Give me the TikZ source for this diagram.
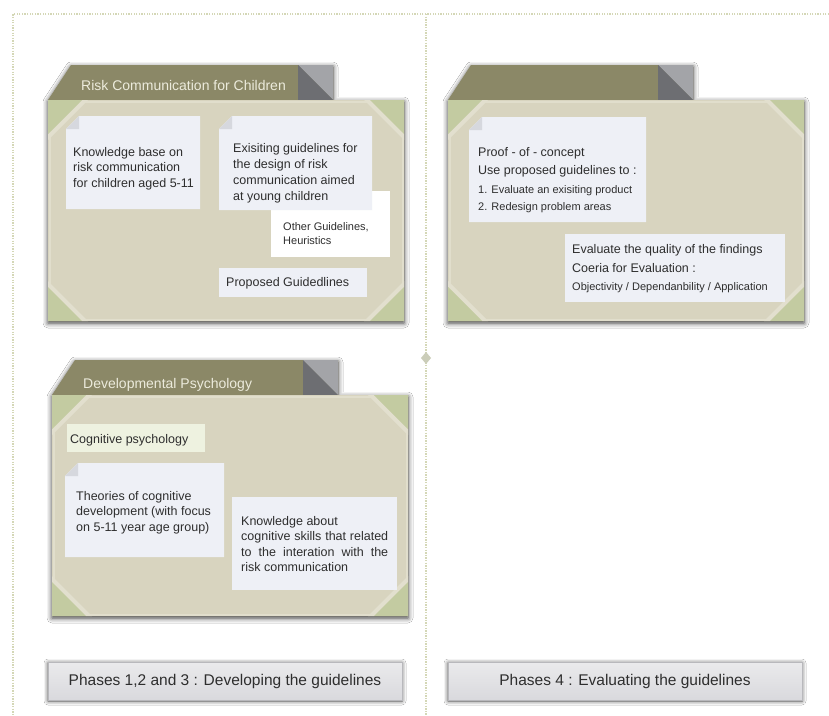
\documentclass[tikz,border=0pt]{standalone}
\usepackage{fontspec}
\setmainfont{Liberation Sans}
\usetikzlibrary{shadows.blur}

\definecolor{tabolive}{HTML}{8B8867}
\definecolor{folddark}{HTML}{6D6E72}
\definecolor{foldlight}{HTML}{A3A4A8}
\definecolor{bodybeige}{HTML}{D8D4BF}
\definecolor{bodyedge}{HTML}{E1DECC}
\definecolor{cornergreen}{HTML}{C3CBA1}
\definecolor{cornerband}{HTML}{E2DFCE}
\definecolor{notefill}{HTML}{EEF0F6}
\definecolor{notefold}{HTML}{D6D8DE}
\definecolor{cogfill}{HTML}{EEF2E0}
\definecolor{txtgray}{HTML}{2E2E2E}
\definecolor{titlecol}{HTML}{ECEBDC}
\definecolor{dotcol}{HTML}{D4D7B6}
\definecolor{phasetop}{HTML}{EAEAEC}
\definecolor{phasebot}{HTML}{D9D9DD}

% card with a folded top-left corner
\newcommand{\foldcard}[4]{%
  \fill[notefill] ({#1+13},#2) -- (#3,#2) -- (#3,#4) -- (#1,#4) -- (#1,{#2+13}) -- cycle;
  \fill[notefold] (#1,{#2+13}) -- ({#1+13},#2) -- ({#1+13},{#2+13}) -- cycle;
}
% plain rectangular card
\newcommand{\plaincard}[5]{%
  \fill[#5] (#1,#2) rectangle (#3,#4);
}

% multi-line text nodes are placed by the baseline of their last line
\tikzset{
  gridline/.style={dotcol, line width=1.3pt, dash pattern=on 1.3pt off 1.3pt},
  notetext/.style={font=\fontsize{12.5}{15.5}\selectfont, text=txtgray, inner sep=0pt,
    anchor=base west, align=left},
  smalltext/.style={font=\fontsize{11}{14}\selectfont, text=txtgray, inner sep=0pt,
    anchor=base west, align=left},
  titletext/.style={font=\fontsize{14}{16}\selectfont, text=titlecol, inner sep=0pt,
    anchor=base west},
  phasebox/.style={top color=phasetop, bottom color=phasebot, draw=phasebot!85!black,
    line width=0.6pt, minimum width=354pt, minimum height=38pt, inner sep=0pt,
    font=\fontsize{15.5}{18}\selectfont, text=txtgray,
    blur shadow={shadow xshift=0pt, shadow yshift=-1pt, shadow blur radius=4pt, shadow opacity=75}},
  % folder: body is 356 x 221 below the local origin, tab rises 35 above it;
  % the argument is where the tab's folded corner starts
  folder/.pic={
    \fill[tabolive, blur shadow={shadow xshift=0pt, shadow yshift=-2pt,
        shadow blur radius=5pt, shadow opacity=80}]
      (0,0) -- (23,-35) -- ({#1+35},-35) -- ({#1+35},0) -- (356,0)
      -- (356,221) -- (0,221) -- cycle;
    \fill[foldlight] (#1,-35) -- ({#1+35},-35) -- ({#1+35},0) -- cycle;
    \fill[folddark] (#1,-35) -- (#1,0) -- ({#1+35},0) -- cycle;
    \fill[bodybeige] (0,0) rectangle (356,221);
    \draw[bodyedge, line width=2pt] (1.5,1.5) rectangle (354.5,219.5);
    % photo corners
    \fill[cornerband] (34,0) -- (40,0) -- (0,40) -- (0,34) -- cycle;
    \fill[cornergreen] (0,0) -- (34,0) -- (0,34) -- cycle;
    \fill[cornerband] (322,0) -- (316,0) -- (356,40) -- (356,34) -- cycle;
    \fill[cornergreen] (356,0) -- (322,0) -- (356,34) -- cycle;
    \fill[cornerband] (0,187) -- (0,181) -- (40,221) -- (34,221) -- cycle;
    \fill[cornergreen] (0,221) -- (0,187) -- (34,221) -- cycle;
    \fill[cornerband] (356,187) -- (356,181) -- (316,221) -- (322,221) -- cycle;
    \fill[cornergreen] (356,221) -- (356,187) -- (322,221) -- cycle;
  }
}

\begin{document}
\begin{tikzpicture}[x=1pt, y=-1pt]
\useasboundingbox (0,0) rectangle (829,715);
\fill[white] (0,0) rectangle (829,715);

% dotted frame and column divider
\coordinate (frameTR) at (829,14);
\coordinate (frameTL) at (13,14);
\coordinate (frameBL) at (13,715);
\coordinate (midTop) at (426,14);
\coordinate (midBot) at (426,715);
\draw[gridline] (frameTR) -- (frameTL) -- (frameBL);
\draw[gridline] (midTop) -- (midBot);
\fill[dotcol!85!black!70] (426,352) -- (431,358) -- (426,364) -- (421,358) -- cycle;

% folders
\pic at (48,100) {folder=250};
\pic at (448,100) {folder=210};
\pic at (52,395) {folder=251};

% --- Risk Communication for Children ---
\node[titletext] (titleRisk) at (81,90) {Risk Communication for Children};
\foldcard{66}{116}{200}{209}
\node[notetext] (kbase) at (73,187) {Knowledge base on\\risk communication\\for children aged 5-11};
% the white card sits behind the guidelines card
\plaincard{271}{191}{390}{257}{white}
\node[smalltext] (other) at (283,244) {Other Guidelines,\\Heuristics};
\foldcard{219}{116}{372}{210}
\node[notetext, font=\fontsize{12.5}{16}\selectfont] (exist) at (233,200) {Exisiting guidelines for\\the design of risk\\communication aimed\\at young children};
\plaincard{219}{268}{367}{297}{notefill}
\node[notetext] (proposed) at (226,286) {Proposed Guidedlines};

% --- evaluation folder ---
\foldcard{469}{117}{646}{222}
\node[notetext, font=\fontsize{12.5}{18}\selectfont] (proof) at (478,174) {Proof - of - concept\\Use proposed guidelines to :};
\node[smalltext, font=\fontsize{11}{17}\selectfont] (steps) at (478,210) {1. Evaluate an exisiting product\\2. Redesign problem areas};
\plaincard{565}{234}{785}{302}{notefill}
\node[notetext, font=\fontsize{12.5}{19}\selectfont] (quality) at (572,272) {Evaluate the quality of the findings\\Coeria for Evaluation :};
\node[smalltext] (criteria) at (572,290) {Objectivity / Dependanbility / Application};

% --- Developmental Psychology ---
\node[titletext] (titleDev) at (83,388) {Developmental Psychology};
\plaincard{67}{424}{205}{452}{cogfill}
\node[notetext] (cogpsy) at (70,443) {Cognitive psychology};
\foldcard{65}{463}{224}{557}
\node[notetext] (theories) at (76,531) {Theories of cognitive\\development (with focus\\on 5-11 year age group)};
\plaincard{232}{497}{397}{590}{notefill}
\node[notetext] (skills) at (241,571.5) {Knowledge about\\\makebox[147pt][s]{cognitive skills that related}\\\makebox[147pt][s]{to the interation with the}\\risk communication};

% phase labels
\node[phasebox] (phaseA) at (225,681) {Phases 1,2 and 3 : Developing the guidelines};
\node[phasebox] (phaseB) at (625,681) {Phases 4 : Evaluating the guidelines};
\end{tikzpicture}
\end{document}
